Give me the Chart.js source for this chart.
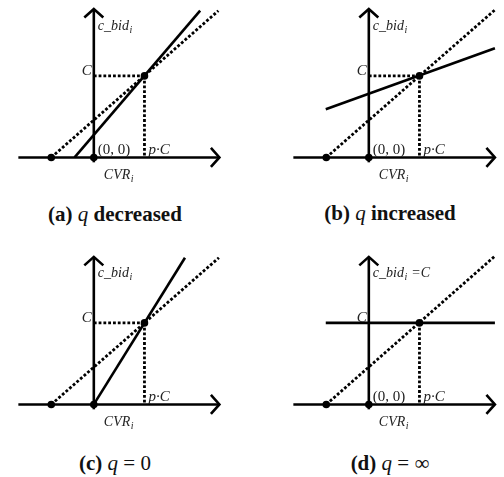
<!DOCTYPE html>
<html>
<head>
<meta charset="utf-8">
<script src="https://cdn.jsdelivr.net/npm/chart.js@4.4.1/dist/chart.umd.min.js"></script>
<style>
  html,body{margin:0;padding:0;background:#fff;overflow:hidden;width:504px;height:477px;}
  canvas{position:absolute;}
  .cap{position:absolute;width:240px;text-align:center;font-family:"Liberation Serif",serif;font-size:21px;line-height:22px;color:#111;font-weight:bold;}
  .cap i{font-weight:normal;}
  .cap .m{font-weight:normal;}
</style>
</head>
<body>
<canvas id="ca" width="226" height="195" style="left:3px;top:0px"></canvas>
<canvas id="cb" width="226" height="195" style="left:278px;top:0px"></canvas>
<canvas id="cc" width="226" height="195" style="left:3px;top:247px"></canvas>
<canvas id="cd" width="226" height="195" style="left:278px;top:247px"></canvas>
<div class="cap" id="capa" style="left:-5px;top:203px"></div>
<div class="cap" id="capb" style="left:270px;top:202px"></div>
<div class="cap" id="capc" style="left:-5px;top:452px"></div>
<div class="cap" id="capd" style="left:270px;top:452px"></div>
<script>
// ---- data (units: horizontal 1 = p·C, vertical 1 = C) ----
const panelIds = ['a', 'b', 'c', 'd'];
const captionTags = ['(a)', '(b)', '(c)', '(d)'];
const captionRest = ['decreased', 'increased', '= 0', '= ∞'];
const captionRestBold = [true, true, false, false];
const xAxisStart = [-1.49, -1.49, -1.49, -1.49];
const xAxisEnd = [2.48, 2.49, 2.48, 2.49];
const yAxisTop = [1.82, 1.82, 1.81, 1.81];
const yAxisBottom = [-0.06, -0.06, -0.06, -0.06];
const leftDotX = [-0.84, -0.84, -0.84, -0.84];
const dottedEnd = [[2.46, 1.80], [2.49, 1.81], [2.47, 1.80], [2.49, 1.82]];
const solidStart = [[-0.38, 0], [-0.85, 0.59], [0, 0], [-0.85, 1]];
const solidEnd = [[2.10, 1.80], [2.49, 1.34], [1.80, 1.80], [2.49, 1]];
const pointC = [1, 1];
const showHorizontalDotted = [true, true, true, false];
const showOriginLabel = [true, true, false, true];
const yLabelMain = ['c_bid', 'c_bid', 'c_bid', 'c_bid'];
const yLabelSuffix = ['', '', '', ' =C'];
const originLabel = '(0, 0)';
const cLabel = 'C';
const pcLabel = 'p·C';
const xLabelMain = 'CVR';
const subscript = 'i';

// ---- view (scale ranges) ----
const X_MIN = -90 / 52.5, X_MAX = 136 / 52.5;
const Y_MAX = 160 / 85, Y_MIN = -35 / 85;

const SERIF = '"Liberation Serif", "DejaVu Serif", serif';

function arrow(ctx, tx, ty, dir) {
  ctx.beginPath();
  if (dir === 'up') {
    ctx.moveTo(tx - 9.5, ty + 8.5); ctx.lineTo(tx, ty); ctx.lineTo(tx + 9.5, ty + 8.5);
  } else {
    ctx.moveTo(tx - 8.5, ty - 9.5); ctx.lineTo(tx, ty); ctx.lineTo(tx - 8.5, ty + 9.5);
  }
  ctx.stroke();
}

function subText(ctx, x, y, main, sub, suffix) {
  ctx.font = 'italic 14px ' + SERIF;
  ctx.textAlign = 'left';
  ctx.textBaseline = 'alphabetic';
  ctx.fillText(main, x, y);
  let w = ctx.measureText(main).width;
  ctx.font = 'italic 10px ' + SERIF;
  ctx.fillText(sub, x + w + 0.5, y + 3);
  let w2 = ctx.measureText(sub).width;
  if (suffix) {
    ctx.font = 'italic 14px ' + SERIF;
    ctx.fillText(suffix, x + w + w2 + 1, y);
  }
}

function makePanel(i) {
  const id = panelIds[i];
  const dotted = { borderDash: [2.8, 2], borderWidth: 2.8, borderColor: '#000', pointRadius: 0, showLine: true, fill: false, borderCapStyle: 'butt' };
  const solid = { borderWidth: 2.6, borderColor: '#000', pointRadius: 0, showLine: true, fill: false };
  const datasets = [
    Object.assign({ label: 'x axis', data: [{ x: xAxisStart[i], y: 0 }, { x: xAxisEnd[i], y: 0 }] }, solid),
    Object.assign({ label: 'y axis', data: [{ x: 0, y: yAxisBottom[i] }, { x: 0, y: yAxisTop[i] }] }, solid),
    Object.assign({ label: 'reference', data: [{ x: leftDotX[i], y: 0 }, { x: dottedEnd[i][0], y: dottedEnd[i][1] }] }, dotted),
    Object.assign({ label: 'vertical', data: [{ x: pointC[0], y: pointC[1] }, { x: pointC[0], y: 0 }] }, dotted),
  ];
  if (showHorizontalDotted[i]) {
    datasets.push(Object.assign({ label: 'horizontal', data: [{ x: 0, y: pointC[1] }, { x: pointC[0], y: pointC[1] }] }, dotted));
  }
  datasets.push(Object.assign({ label: 'bid', data: [{ x: solidStart[i][0], y: solidStart[i][1] }, { x: solidEnd[i][0], y: solidEnd[i][1] }] }, solid));
  datasets.push({ label: 'dots', data: [{ x: leftDotX[i], y: 0 }, { x: 0, y: 0 }, { x: pointC[0], y: pointC[1] }],
    showLine: false, pointRadius: 3.8, pointBackgroundColor: '#000', pointBorderWidth: 0, borderColor: '#000' });

  const deco = {
    id: 'deco' + id,
    afterDatasetsDraw(chart) {
      const ctx = chart.ctx, xs = chart.scales.x, ys = chart.scales.y;
      const ox = xs.getPixelForValue(0), oy = ys.getPixelForValue(0);
      const px = xs.getPixelForValue(pointC[0]), py = ys.getPixelForValue(pointC[1]);
      ctx.save();
      ctx.strokeStyle = '#000'; ctx.lineWidth = 2.6; ctx.lineCap = 'butt'; ctx.lineJoin = 'miter';
      arrow(ctx, xs.getPixelForValue(xAxisEnd[i]), oy, 'right');
      arrow(ctx, ox, ys.getPixelForValue(yAxisTop[i]), 'up');
      ctx.fillStyle = '#222';
      subText(ctx, ox + 4, 30, yLabelMain[i], subscript, yLabelSuffix[i]);
      ctx.font = 'italic 15px ' + SERIF; ctx.textAlign = 'right'; ctx.textBaseline = 'alphabetic';
      ctx.fillText(cLabel, ox - 2, py - 1);
      ctx.font = '15px ' + SERIF; ctx.textAlign = 'left';
      if (showOriginLabel[i]) ctx.fillText(originLabel, ox + 4, oy - 3);
      ctx.font = 'italic 15px ' + SERIF;
      ctx.fillText(pcLabel, px + 4, oy - 3);
      subText(ctx, ox + 10, oy + 22, xLabelMain, subscript, '');
      ctx.restore();
    }
  };

  new Chart(document.getElementById('c' + id), {
    type: 'scatter',
    data: { datasets },
    options: {
      responsive: false, animation: false, devicePixelRatio: 1,
      layout: { padding: 0 },
      plugins: { legend: { display: false }, tooltip: { enabled: false }, title: { display: false } },
      scales: {
        x: { type: 'linear', min: X_MIN, max: X_MAX, display: false },
        y: { type: 'linear', min: Y_MIN, max: Y_MAX, display: false }
      }
    },
    plugins: [deco]
  });

  const cap = document.getElementById('cap' + id);
  cap.innerHTML = captionTags[i] + ' <i>q</i> ' + (captionRestBold[i] ? captionRest[i] : '<span class="m">' + captionRest[i] + '</span>');
}

for (let i = 0; i < panelIds.length; i++) makePanel(i);
</script>
</body>
</html>
